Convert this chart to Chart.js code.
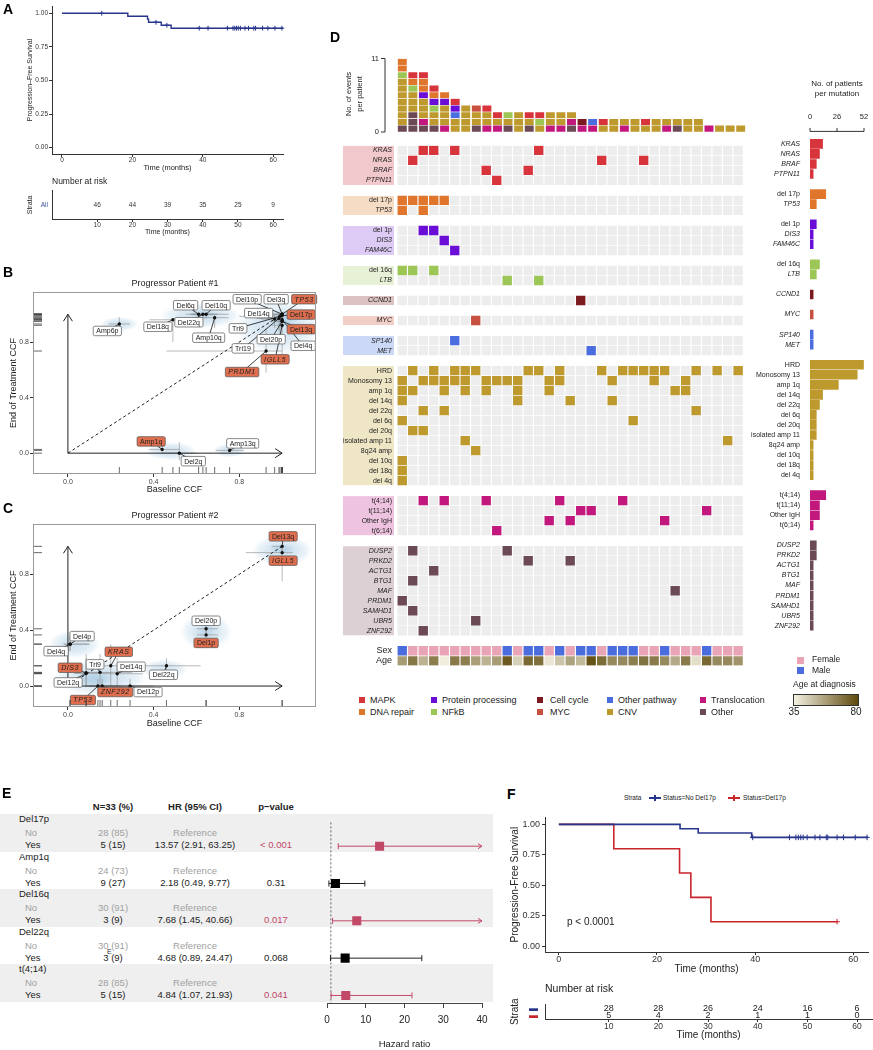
<!DOCTYPE html>
<html><head><meta charset="utf-8"><title>Figure</title>
<script src="https://cdn.jsdelivr.net/npm/chart.js@4.4.1/dist/chart.umd.min.js"></script>
<style>
html,body{margin:0;padding:0;background:#fff;}
#root{position:relative;width:873px;height:1050px;overflow:hidden;font-family:"Liberation Sans",Arial,Helvetica,sans-serif;color:#222;}
#root canvas{position:absolute;}
.t{position:absolute;white-space:nowrap;line-height:1.15;}
.b{position:absolute;}
</style></head><body><div id="root"></div>
<script>
// ================= DATA =================
// Panel A – Kaplan-Meier, all patients
const kmTicksX = [0, 20, 40, 60];
const survTicks = [0, 0.25, 0.5, 0.75, 1];
const aTimes = [0, 18.7, 24.3, 24.6, 28.2, 31.0, 62.8];
const aSurv = [1, 0.978, 0.956, 0.933, 0.911, 0.889, 0.889];
const aCensor = [11.3, 26.7, 29.8, 39, 41.5, 47, 48.6, 49.1, 49.6, 50.1, 50.7, 52, 53, 54.5, 55, 57, 58.5, 60.5, 62.5];
const riskTicks = [10, 20, 30, 40, 50, 60];
const riskAll = [46, 44, 39, 35, 25, 9];

// Panels B / C – CCF scatter
const ccfTicks = [0, 0.4, 0.8];
const bNames = ['Amp6p','Del18q','Del6q','Del22q','Del10q','Amp10q','Del10p','Del3q','TP53','Del17p','Del14q','Tri9','Del13q','Del20p','Del4q','Tri19','IGLL5','PRDM1','Amp1q','Del2q','Amp13q'];
const bBase = [0.24,0.49,0.61,0.63,0.645,0.685,1.0,1.0,1.0,1.0,0.965,0.99,1.0,1.0,1.0,0.985,1.0,0.925,0.44,0.52,0.755];
const bEnd  = [0.93,0.96,1.0,1.0,1.0,0.975,1.0,1.0,1.0,0.99,0.965,0.985,0.95,0.95,0.96,0.97,0.92,0.735,0.027,0.0,0.02];
const bBaseLo = [0.19,0.38,0.55,0.57,0.58,0.62,0.93,0.95,0.97,0.98,0.9,0.8,0.97,0.94,0.95,0.88,0.95,0.46,0.38,0.44,0.69];
const bBaseHi = [0.29,0.52,0.68,0.70,0.75,0.75,1.0,1.0,1.0,1.0,1.0,1.0,1.0,1.0,1.0,1.0,1.0,1.0,0.52,0.6,0.82];
const bEndLo = [0.88,0.80,0.97,0.97,0.97,0.90,0.97,0.97,0.98,0.97,0.9,0.8,0.9,0.9,0.9,0.88,0.67,0.58,0.0,-0.05,0.0];
const bEndHi = [0.98,0.96,1.0,1.0,1.0,1.0,1.0,1.0,1.0,1.0,1.0,1.0,1.0,1.0,1.0,1.0,1.0,0.9,0.06,0.08,0.04];
const bDriver = [0,0,0,0,0,0,0,0,1,1,0,0,1,0,0,0,1,1,1,0,0];
const bDensity = [[0.24,0.93,0.09,0.05,0.4],[0.62,0.99,0.19,0.09,0.42],[0.63,1.0,0.07,0.035,0.3],[0.98,0.91,0.2,0.2,0.42],[1.0,0.97,0.08,0.06,0.45],[0.48,0.015,0.12,0.065,0.4],[0.755,0.02,0.075,0.05,0.4]];

const cNames = ['Del13q','IGLL5','Del20p','Del1p','Del4p','Del4q','KRAS','Tri9','Del14q','DIS3','Del22q','Del12q','ZNF292','Del12p','TP53'];
const cBase = [1.0,1.0,0.645,0.645,0.01,0.01,0.2,0.15,0.23,0.085,0.46,0.085,0.16,0.29,0.14];
const cEnd  = [1.0,0.955,0.41,0.366,0.3,0.3,0.145,0.098,0.088,0.095,0.145,0.09,0.0,0.0,0.0];
const cBaseLo = [0.95,0.83,0.6,0.6,-0.02,-0.02,0.1,0.08,0.15,0.03,0.33,0.03,0.1,0.2,0.08];
const cBaseHi = [1.0,1.05,0.7,0.7,0.1,0.1,0.3,0.3,0.35,0.2,0.62,0.15,0.25,0.4,0.2];
const cEndLo = [0.95,0.75,0.37,0.33,0.25,0.25,0.0,0.0,0.0,0.0,0.07,0.0,0.0,0.0,0.0];
const cEndHi = [1.0,1.0,0.45,0.41,0.35,0.35,0.3,0.23,0.2,0.23,0.2,0.2,0.05,0.05,0.05];
const cDriver = [1,1,0,1,0,0,1,0,0,1,0,0,1,0,1];
const cDensity = [[1.0,0.97,0.14,0.11,0.42],[1.0,0.98,0.06,0.04,0.4],[0.645,0.39,0.12,0.13,0.4],[0.645,0.39,0.05,0.05,0.3],[0.03,0.3,0.12,0.1,0.4],[0.15,0.06,0.22,0.13,0.42],[0.12,0.05,0.09,0.06,0.45],[0.45,0.12,0.11,0.07,0.38]];

// Panel D – oncoprint
const pathways = ['MAPK','DNA repair','Protein processing','NFkB','Cell cycle','MYC','Other pathway','CNV','Translocation','Other'];
const geneGroups = [
  ['KRAS','NRAS','BRAF','PTPN11'],
  ['del 17p','TP53'],
  ['del 1p','DIS3','FAM46C'],
  ['del 16q','LTB'],
  ['CCND1'],
  ['MYC'],
  ['SP140','MET'],
  ['HRD','Monosomy 13','amp 1q','del 14q','del 22q','del 6q','del 20q','isolated amp 11','8q24 amp','del 10q','del 18q','del 4q'],
  ['t(4;14)','t(11;14)','Other IgH','t(6;14)'],
  ['DUSP2','PRKD2','ACTG1','BTG1','MAF','PRDM1','SAMHD1','UBR5','ZNF292']
];
const italicNames = ['KRAS','NRAS','BRAF','PTPN11','TP53','DIS3','FAM46C','LTB','CCND1','MYC','SP140','MET','DUSP2','PRKD2','ACTG1','BTG1','MAF','PRDM1','SAMHD1','UBR5','ZNF292'];
const mutatedPatients = {
  'KRAS':[2,3,5,13], 'NRAS':[1,19,23], 'BRAF':[8,12], 'PTPN11':[9],
  'del 17p':[0,1,2,3,4], 'TP53':[0,2],
  'del 1p':[2,3], 'DIS3':[4], 'FAM46C':[5],
  'del 16q':[0,1,3], 'LTB':[10,13],
  'CCND1':[17], 'MYC':[7], 'SP140':[5], 'MET':[18],
  'HRD':[1,3,5,6,7,12,13,15,19,21,22,23,24,25,28,30,32],
  'Monosomy 13':[0,2,3,4,5,6,8,9,10,11,14,15,20,24,27],
  'amp 1q':[0,1,4,6,8,11,14,26,27],
  'del 14q':[0,11,16,20], 'del 22q':[2,4,28], 'del 6q':[0,22], 'del 20q':[1,2],
  'isolated amp 11':[6,31], '8q24 amp':[7], 'del 10q':[0], 'del 18q':[0], 'del 4q':[0],
  't(4;14)':[2,4,8,15,21], 't(11;14)':[17,18,29], 'Other IgH':[14,16,25], 't(6;14)':[9],
  'DUSP2':[1,10], 'PRKD2':[12,16], 'ACTG1':[3], 'BTG1':[1], 'MAF':[26], 'PRDM1':[0], 'SAMHD1':[1], 'UBR5':[7], 'ZNF292':[2]
};
const sexMale = [1,0,0,0,0,0,0,0,0,0,1,0,1,1,0,1,0,1,1,0,1,1,1,0,0,1,0,0,0,1,0,0,0];
const ages = [58,68,52,66,36,67,66,57,52,58,76,44,72,70,38,47,56,50,78,71,63,63,66,69,67,63,54,67,40,72,63,63,60];
const ageRange = [35, 80];
const pctTicks = [0, 26, 52];

// Panel E – forest plot
const fpVars = ['Del17p','Amp1q','Del16q','Del22q','t(4;14)'];
const fpNoN = ['28 (85)','24 (73)','30 (91)','30 (91)','28 (85)'];
const fpYesN = ['5 (15)','9 (27)','3 (9)','3 (9)','5 (15)'];
const fpHR = [13.57, 2.18, 7.68, 4.68, 4.84];
const fpLo = [2.91, 0.49, 1.45, 0.89, 1.07];
const fpHi = [63.25, 9.77, 40.66, 24.47, 21.93];
const fpP = ['< 0.001','0.31','0.017','0.068','0.041'];
const fpSig = [1,0,1,0,1];
const fpTicks = [0, 10, 20, 30, 40];

// Panel F – KM by Del17p
const fNoTimes = [0, 24.7, 28.4, 39.3, 63];
const fNoSurv = [1, 0.964, 0.929, 0.893, 0.893];
const fNoCensor = [39.5, 47, 48.3, 48.8, 49.3, 49.8, 50.6, 52.2, 53.2, 54.5, 54.8, 56.7, 58, 60.4, 62.8];
const fDelTimes = [0, 11.2, 24.6, 26.9, 31.0, 56.7];
const fDelSurv = [1, 0.8, 0.6, 0.4, 0.2, 0.2];
const fDelCensor = [56.7];
const riskNoDel = [28, 28, 26, 24, 16, 6];
const riskDel = [5, 4, 2, 1, 1, 0];

// ================= STYLE / HELPERS =================
const NAVY = '#27358C', KMRED = '#C9252C', FPRED = '#C24868';
const pathwayColors = ['#D7343C','#E0762B','#6A0DD6','#9CC656','#7B1A1E','#C7513E','#4A6EE0','#BE992E','#C2177C','#6B4A55'];
const stripColors = ['#F1C8CB','#F6DCC4','#DDCBF5','#E7F1D6','#DCC2C2','#F1CEC6','#CBD8F6','#EFE6C6','#EDC3DF','#DCD0D4'];
const FEMALE = '#E9A5B5', MALE = '#4A6CDC';
const AGE_LO = [244,241,225], AGE_HI = [95,74,14];
const FONT = '"Liberation Sans", Arial, Helvetica, sans-serif';

Chart.defaults.font.family = FONT;
Chart.defaults.color = '#333';
Chart.defaults.animation = false;
Chart.defaults.responsive = false;
Chart.defaults.maintainAspectRatio = false;
Chart.defaults.devicePixelRatio = 1;
Chart.defaults.plugins.legend.display = false;
Chart.defaults.plugins.tooltip.enabled = false;
Chart.defaults.events = [];

const root = document.getElementById('root');
function txt(s, x, y, o = {}) {
  const d = document.createElement('div');
  d.className = 't'; d.textContent = s;
  d.style.left = x + 'px'; d.style.top = y + 'px';
  d.style.fontSize = (o.size || 9) + 'px';
  if (o.bold) d.style.fontWeight = 'bold';
  if (o.italic) d.style.fontStyle = 'italic';
  if (o.color) d.style.color = o.color;
  const ax = o.align === 'center' ? '-50%' : o.align === 'right' ? '-100%' : '0';
  d.style.transform = `translate(${ax},-50%)`;
  root.appendChild(d); return d;
}
function rtxt(s, cx, cy, o = {}) {
  const d = txt(s, cx, cy, Object.assign({}, o, {align: 'center'}));
  d.style.transform = 'translate(-50%,-50%) rotate(-90deg)';
  return d;
}
function box(x, y, w, h, style) {
  const d = document.createElement('div'); d.className = 'b';
  d.style.left = x + 'px'; d.style.top = y + 'px'; d.style.width = w + 'px'; d.style.height = h + 'px';
  Object.assign(d.style, style); root.appendChild(d); return d;
}
function mkCanvas(x, y, w, h) {
  const c = document.createElement('canvas');
  c.width = w; c.height = h;
  c.style.left = x + 'px'; c.style.top = y + 'px'; c.style.width = w + 'px'; c.style.height = h + 'px';
  root.appendChild(c); return c;
}
const fixTicks = arr => s => { s.ticks = arr.map(v => ({value: v})); };
const fixW = w => s => { s.width = w; };
const fixH = h => s => { s.height = h; };
const gridOpt = len => ({display: true, drawOnChartArea: false, tickLength: len, color: '#333', lineWidth: 1});
function survAt(T, S, t) { let v = S[0]; for (let i = 0; i < T.length; i++) if (T[i] <= t) v = S[i]; return v; }
function ageColor(a) {
  const t = Math.max(0, Math.min(1, (a - ageRange[0]) / (ageRange[1] - ageRange[0])));
  return `rgb(${AGE_LO.map((v, i) => Math.round(v + (AGE_HI[i] - v) * t))})`;
}
function stepDS(T, S, col, w) { return {type: 'line', data: T.map((t, i) => ({x: t, y: S[i]})), stepped: true, borderColor: col, borderWidth: w, pointRadius: 0, fill: false, clip: false}; }
function censorDS(C, T, S, col, r) { return {data: C.map(t => ({x: t, y: survAt(T, S, t)})), pointStyle: 'cross', pointRadius: r, borderColor: col, backgroundColor: col, borderWidth: 1, clip: false}; }
function kmX(min, max, ticks, h, tf, title, ttf, tpb) {
  return {type: 'linear', min, max, afterBuildTicks: fixTicks(ticks), afterFit: fixH(h), grid: gridOpt(3),
    border: {display: true, color: '#333', width: 1},
    ticks: {font: {size: tf, lineHeight: 1}, color: '#333', padding: 0, maxRotation: 0, autoSkip: false},
    title: {display: true, text: title, font: {size: ttf, lineHeight: 1.1}, color: '#222', padding: {top: 0, bottom: tpb}}};
}
function kmY(min, max, w, tf, tpad, title, ttf, tpt) {
  return {type: 'linear', min, max, afterBuildTicks: fixTicks(survTicks), afterFit: fixW(w), grid: gridOpt(3),
    border: {display: true, color: '#333', width: 1},
    ticks: {font: {size: tf}, color: '#333', padding: tpad, autoSkip: false, callback: v => Number(v).toFixed(2)},
    title: {display: true, text: title, font: {size: ttf}, color: '#222', padding: {top: tpt, bottom: 0}}};
}
function riskPlugin(rows, rowY, font, color) {
  return {id: 'risk', afterDatasetsDraw(chart) {
    const {ctx, scales: {x, y}} = chart;
    ctx.save(); ctx.font = font; ctx.textAlign = 'center'; ctx.textBaseline = 'middle'; ctx.fillStyle = color;
    rows.forEach((row, r) => row.forEach((v, i) => ctx.fillText(String(v), x.getPixelForValue(riskTicks[i]), y.getPixelForValue(rowY[r]))));
    ctx.restore();
  }};
}

// ================= PANEL A =================
new Chart(mkCanvas(0, 0, 290, 175), {
  type: 'scatter',
  data: {datasets: [stepDS(aTimes, aSurv, NAVY, 1.4), censorDS(aCensor, aTimes, aSurv, NAVY, 2.4)]},
  options: {layout: {padding: {left: 0, right: 7, top: 6, bottom: 0}},
    scales: {x: kmX(-2.84, 62.8, kmTicksX, 21, 6.5, 'Time (months)', 7.5, 2.5),
             y: kmY(-0.047, 1.054, 52, 6.5, 1, 'Progression\u2013Free Survival', 7, 26)}}
});
new Chart(mkCanvas(0, 183, 290, 53), {
  type: 'scatter', data: {datasets: [{data: []}]},
  options: {layout: {padding: {left: 0, right: 7, top: 5, bottom: 0}},
    scales: {
      x: kmX(-2.84, 62.8, riskTicks, 17, 6.5, 'Time (months)', 7, 0),
      y: {type: 'linear', min: 0, max: 1, afterBuildTicks: fixTicks([0.5]), afterFit: fixW(52),
        grid: {display: false, drawTicks: false}, border: {display: true, color: '#333', width: 1},
        ticks: {font: {size: 6.5}, color: '#3A4FA0', padding: 4, autoSkip: false, callback: () => 'All'},
        title: {display: true, text: 'Strata', font: {size: 7}, color: '#222', padding: {top: 26, bottom: 0}}}
    }},
  plugins: [riskPlugin([riskAll], [0.5], '6.5px ' + FONT, '#333')]
});

// ================= PANELS B / C =================
function ccfPlugin(d) {
  const isGene = n => !/^(Del|Amp|Tri)/.test(n);
  return {
    id: 'ccf',
    beforeDatasetsDraw(chart) {
      const {ctx, chartArea: a, scales: {x, y}} = chart;
      const X = v => x.getPixelForValue(v), Y = v => y.getPixelForValue(v);
      ctx.save();
      ctx.beginPath(); ctx.rect(a.left, a.top, a.right - a.left, a.bottom - a.top); ctx.clip();
      d.blobs.forEach(b => {
        const px = X(b[0]), py = Y(b[1]), rx = Math.abs(X(b[0] + b[2]) - px), ry = Math.abs(Y(b[1] + b[3]) - py);
        ctx.save(); ctx.translate(px, py); ctx.scale(rx, ry);
        const g = ctx.createRadialGradient(0, 0, 0, 0, 0, 1);
        g.addColorStop(0, `rgba(140,185,218,${b[4]})`);
        g.addColorStop(0.5, `rgba(150,192,222,${b[4] * 0.85})`);
        g.addColorStop(0.8, `rgba(165,202,228,${b[4] * 0.5})`);
        g.addColorStop(1, 'rgba(180,212,234,0)');
        ctx.fillStyle = g; ctx.beginPath(); ctx.arc(0, 0, 1, 0, 2 * Math.PI); ctx.fill(); ctx.restore();
      });
      ctx.strokeStyle = 'rgba(140,140,140,0.75)'; ctx.lineWidth = 0.8;
      d.base.forEach((bx, i) => {
        const px = X(bx), py = Y(d.end[i]);
        ctx.beginPath(); ctx.moveTo(X(d.bLo[i]), py); ctx.lineTo(X(d.bHi[i]), py);
        ctx.moveTo(px, Y(d.eLo[i])); ctx.lineTo(px, Y(d.eHi[i])); ctx.stroke();
      });
      const ox = X(0), oy = Y(0), tx = X(1), ty = Y(1);
      ctx.strokeStyle = '#222'; ctx.lineWidth = 1;
      ctx.beginPath();
      ctx.moveTo(ox, oy); ctx.lineTo(tx, oy); ctx.moveTo(tx - 7, oy - 4.5); ctx.lineTo(tx, oy); ctx.lineTo(tx - 7, oy + 4.5);
      ctx.moveTo(ox, oy); ctx.lineTo(ox, ty); ctx.moveTo(ox - 4.5, ty + 7); ctx.lineTo(ox, ty); ctx.lineTo(ox + 4.5, ty + 7);
      ctx.stroke();
      ctx.setLineDash([3, 2.5]); ctx.beginPath(); ctx.moveTo(ox, oy); ctx.lineTo(X(d.diag), Y(d.diag)); ctx.stroke(); ctx.setLineDash([]);
      ctx.strokeStyle = '#111'; ctx.lineWidth = 0.8;
      d.base.forEach((bx, i) => {
        const [dx, dy] = d.nudge[i]; if (Math.hypot(dx, dy) < 9) return;
        const px = X(bx), py = Y(d.end[i]);
        ctx.beginPath(); ctx.moveTo(px, py); ctx.lineTo(px + dx, py + dy); ctx.stroke();
      });
      ctx.restore();
    },
    afterDatasetsDraw(chart) {
      const {ctx, scales: {x, y}} = chart;
      ctx.save(); ctx.textAlign = 'center'; ctx.textBaseline = 'middle';
      d.names.forEach((n, i) => {
        const it = isGene(n);
        ctx.font = `${it ? 'italic ' : ''}7px ${FONT}`;
        if ('letterSpacing' in ctx) ctx.letterSpacing = it ? '0.6px' : '0px';
        const w = ctx.measureText(n).width + 6, h = 9.5;
        const cx = x.getPixelForValue(d.base[i]) + d.nudge[i][0], cy = y.getPixelForValue(d.end[i]) + d.nudge[i][1];
        ctx.beginPath();
        if (ctx.roundRect) ctx.roundRect(cx - w / 2, cy - h / 2, w, h, 1.5); else ctx.rect(cx - w / 2, cy - h / 2, w, h);
        ctx.fillStyle = d.drv[i] ? '#DE6E4E' : '#fff'; ctx.fill();
        ctx.strokeStyle = '#555'; ctx.lineWidth = 0.7; ctx.stroke();
        ctx.fillStyle = '#222'; ctx.fillText(n, cx, cy + 0.5);
      });
      ctx.restore();
    },
    afterDraw(chart) {
      const {ctx, chartArea: a, scales: {x, y}} = chart;
      ctx.save(); ctx.strokeStyle = '#444'; ctx.lineWidth = 0.8; ctx.beginPath();
      d.end.forEach(v => { const py = y.getPixelForValue(v); ctx.moveTo(a.left + 1, py); ctx.lineTo(a.left + 9, py); });
      d.base.forEach(v => { const px = x.getPixelForValue(v); ctx.moveTo(px, a.bottom - 1); ctx.lineTo(px, a.bottom - 7); });
      ctx.stroke();
      ctx.strokeStyle = '#9a9a9a'; ctx.lineWidth = 1;
      ctx.strokeRect(a.left + 0.5, a.top + 0.5, a.right - a.left - 1, a.bottom - a.top - 1);
      ctx.restore();
    }
  };
}
function ccfChart(cv, d, xh) {
  return new Chart(cv, {
    type: 'scatter',
    data: {datasets: [{data: d.base.map((v, i) => ({x: v, y: d.end[i]})), pointRadius: 1.7, backgroundColor: '#111', borderWidth: 0}]},
    options: {layout: {padding: {left: 0, right: 3, top: 6, bottom: 0}},
      scales: {
        x: {type: 'linear', min: -0.163, max: 1.158, afterBuildTicks: fixTicks(ccfTicks), afterFit: fixH(xh),
          grid: gridOpt(3), border: {display: false},
          ticks: {font: {size: 7}, color: '#444', padding: 1, maxRotation: 0, callback: v => Number(v).toFixed(1)},
          title: {display: true, text: 'Baseline CCF', font: {size: 9}, color: '#222', padding: {top: 0, bottom: 2.6}}},
        y: {type: 'linear', min: -0.15, max: 1.16, afterBuildTicks: fixTicks(ccfTicks), afterFit: fixW(33),
          grid: gridOpt(3), border: {display: false},
          ticks: {font: {size: 7}, color: '#444', padding: 1, callback: v => Number(v).toFixed(1)},
          title: {display: true, text: 'End of Treatment CCF', font: {size: 9}, color: '#222', padding: {top: 8, bottom: 0}}}
      }},
    plugins: [ccfPlugin(d)]
  });
}
const bLabelNudge = [[-12,7],[-15,7],[-13,-9],[-14,8],[10,-9],[-6,20],[-35,-15],[-6,-15],[22,-15],[19,-1],[-16,-6],[-42,12],[19,8],[-11,18],[21,26],[-36,30],[-7,34],[-24,21],[-11,-8],[14,8],[13,-7]];
const cLabelNudge = [[1,-10],[1,8],[0,-8],[0,8],[12,-8],[-14,7],[8,-14],[-5,-8],[14,-7],[-16,-5],[-3,9],[-18,9],[13,6],[18,6],[-15,14]];
ccfChart(mkCanvas(0, 286, 320, 212), {names: bNames, base: bBase, end: bEnd, bLo: bBaseLo, bHi: bBaseHi, eLo: bEndLo, eHi: bEndHi, drv: bDriver, blobs: bDensity, nudge: bLabelNudge, diag: 0.965}, 24);
ccfChart(mkCanvas(0, 518, 320, 214), {names: cNames, base: cBase, end: cEnd, bLo: cBaseLo, bHi: cBaseHi, eLo: cEndLo, eHi: cEndHi, drv: cDriver, blobs: cDensity, nudge: cLabelNudge, diag: 1.0}, 25);

// ================= PANEL D =================
const dRows = []; const groupFirst = [], groupLast = [];
geneGroups.forEach((g, gi) => {
  if (gi > 0) dRows.push(null);
  groupFirst.push(dRows.length);
  g.forEach(n => dRows.push({name: n, group: gi}));
  groupLast.push(dRows.length - 1);
});
dRows.push(null); dRows.push({name: 'Sex', special: true}); dRows.push({name: 'Age', special: true});
const nPat = sexMale.length;
const sexRow = dRows.findIndex(r => r && r.name === 'Sex');
const bgCells = [], evCells = [], evColors = [];
dRows.forEach((r, ri) => {
  if (!r || r.special) return;
  for (let c = 0; c < nPat; c++) bgCells.push({x: c, y: ri});
  (mutatedPatients[r.name] || []).forEach(c => { evCells.push({x: c, y: ri}); evColors.push(pathwayColors[r.group]); });
});
const CELL_R = 6.6;
const rowFont = c => {
  const r = dRows[c.index];
  if (!r) return {size: 7};
  if (r.special) return {size: 9};
  return {size: 7, style: italicNames.includes(r.name) ? 'italic' : 'normal'};
};
const stripPlugin = {id: 'strips', beforeDraw(chart) {
  const {ctx, chartArea: a, scales: {y}} = chart;
  ctx.save();
  geneGroups.forEach((g, gi) => {
    const y0 = y.getPixelForValue(groupFirst[gi] - 0.5) + 0.5, y1 = y.getPixelForValue(groupLast[gi] + 0.5) - 0.5;
    ctx.fillStyle = stripColors[gi]; ctx.fillRect(a.left - 54, y0, 51, y1 - y0);
  });
  ctx.restore();
}};
// dataset listed first is drawn on top: events above the grey background cells
new Chart(mkCanvas(335, 135, 415, 540), {
  type: 'scatter',
  data: {datasets: [
    {data: evCells, pointStyle: 'rect', pointRadius: CELL_R, backgroundColor: evColors, borderWidth: 0},
    {data: sexMale.map((m, c) => ({x: c, y: sexRow})), pointStyle: 'rect', pointRadius: CELL_R, backgroundColor: sexMale.map(m => m ? MALE : FEMALE), borderWidth: 0},
    {data: ages.map((a, c) => ({x: c, y: sexRow + 1})), pointStyle: 'rect', pointRadius: CELL_R, backgroundColor: ages.map(ageColor), borderWidth: 0},
    {data: bgCells, pointStyle: 'rect', pointRadius: CELL_R, backgroundColor: '#EDEDED', borderWidth: 0}
  ]},
  options: {layout: {padding: {left: 0, right: 4, top: 3.9, bottom: 5.7}},
    scales: {
      x: {type: 'linear', min: -0.5, max: nPat - 0.5, display: false},
      y: {type: 'linear', min: -0.5, max: dRows.length - 0.5, reverse: true,
        afterBuildTicks: s => { s.ticks = dRows.map((r, i) => ({value: i})); }, afterFit: fixW(62),
        grid: {display: false, drawTicks: false}, border: {display: false},
        ticks: {autoSkip: false, padding: 5, color: '#222', font: rowFont, callback: v => dRows[v] ? dRows[v].name : ''}}
    }},
  plugins: [stripPlugin]
});

// top stacked bars: events per patient (one dataset per stack level so each event is its own tile)
const stackOrder = [9, 8, 7, 6, 5, 4, 3, 2, 1, 0];
const colStacks = Array.from({length: nPat}, () => []);
stackOrder.forEach(gi => geneGroups[gi].forEach(n => (mutatedPatients[n] || []).forEach(c => colStacks[c].push(gi))));
const maxLevel = Math.max(...colStacks.map(s => s.length));
const levelSets = [];
for (let L = 0; L < maxLevel; L++) {
  levelSets.push({
    data: colStacks.map(s => s.length > L ? 1 : null),
    backgroundColor: colStacks.map(s => s.length > L ? pathwayColors[s[L]] : 'rgba(0,0,0,0)'),
    borderColor: 'rgba(255,255,255,0.6)', borderWidth: 0.6, borderSkipped: false, barThickness: 9.5
  });
}
const countTicks = [0, maxLevel];
const countAxisPlugin = {id: 'countAxis', afterDraw(chart) {
  const {ctx, chartArea: a, scales: {y}} = chart; const xb = a.left - 12;
  ctx.save(); ctx.strokeStyle = '#333'; ctx.lineWidth = 1; ctx.beginPath();
  ctx.moveTo(xb, y.getPixelForValue(countTicks[0])); ctx.lineTo(xb, y.getPixelForValue(countTicks[1]));
  countTicks.forEach(t => { const py = y.getPixelForValue(t); ctx.moveTo(xb - 4, py); ctx.lineTo(xb, py); });
  ctx.stroke();
  ctx.font = '7.5px ' + FONT; ctx.fillStyle = '#222'; ctx.textAlign = 'right'; ctx.textBaseline = 'middle';
  countTicks.forEach(t => ctx.fillText(String(t), xb - 6, y.getPixelForValue(t)));
  ctx.restore();
}};
new Chart(mkCanvas(335, 50, 420, 90), {
  type: 'bar',
  data: {labels: sexMale.map((m, c) => String(c + 1)), datasets: levelSets},
  options: {layout: {padding: {left: 62, right: 9, top: 8.5, bottom: 8}},
    scales: {
      x: {type: 'category', display: false, stacked: true},
      y: {type: 'linear', min: 0, max: maxLevel, stacked: true, display: false}
    }},
  plugins: [countAxisPlugin]
});

// right bars: % patients per mutation
const rowPct = dRows.map(r => r && !r.special ? (mutatedPatients[r.name] || []).length / nPat * 100 : null);
const rowBarColors = dRows.map(r => r && !r.special ? pathwayColors[r.group] : '#fff');
const bracketPlugin = {id: 'bracket', afterDraw(chart) {
  const {ctx, chartArea: a, scales: {x}} = chart; const yb = a.top - 7.5;
  ctx.save(); ctx.strokeStyle = '#333'; ctx.lineWidth = 1; ctx.beginPath();
  ctx.moveTo(x.getPixelForValue(pctTicks[0]), yb); ctx.lineTo(x.getPixelForValue(pctTicks[pctTicks.length - 1]), yb);
  pctTicks.forEach(t => { const px = x.getPixelForValue(t); ctx.moveTo(px, yb); ctx.lineTo(px, yb - 3.5); });
  ctx.stroke();
  ctx.font = '7.5px ' + FONT; ctx.fillStyle = '#222'; ctx.textAlign = 'center'; ctx.textBaseline = 'middle';
  pctTicks.forEach(t => ctx.fillText(String(t), x.getPixelForValue(t), yb - 14.5));
  ctx.restore();
}};
new Chart(mkCanvas(750, 100, 123, 575), {
  type: 'bar',
  data: {labels: dRows.map(r => r && !r.special ? r.name : ''),
    datasets: [{data: rowPct, backgroundColor: rowBarColors, barThickness: 9, borderWidth: 0}]},
  options: {indexAxis: 'y', layout: {padding: {left: 0, right: 9, top: 38.9, bottom: 5.7}},
    scales: {
      x: {type: 'linear', min: 0, max: 52, display: false},
      y: {type: 'category', afterFit: fixW(60), grid: {display: false, drawTicks: false}, border: {display: false},
        ticks: {autoSkip: false, padding: 10, color: '#222', font: rowFont}}
    }},
  plugins: [bracketPlugin]
});

// ================= PANEL E =================
const eGroupY0 = 819, eStep = 37.6;
fpVars.forEach((v, i) => { if (i % 2 === 0) box(0, eGroupY0 + i * eStep - 5, 493, 38, {background: '#EFEFEF'}); });
new Chart(mkCanvas(300, 810, 200, 240), {
  type: 'scatter',
  data: {datasets: [{data: fpHR.map((v, i) => ({x: v, y: i})), pointStyle: 'rect', pointRadius: 6.4,
    backgroundColor: fpSig.map(s => s ? FPRED : '#000'), borderWidth: 0}]},
  options: {layout: {padding: {left: 27, right: 18, top: 5, bottom: 0}},
    scales: {
      x: {type: 'linear', min: 0, max: 40, afterBuildTicks: fixTicks(fpTicks), afterFit: fixH(47),
        grid: {display: true, drawOnChartArea: false, tickLength: 5, color: '#444'}, border: {display: true, color: '#444', width: 1},
        ticks: {font: {size: 10}, color: '#222', padding: 6, maxRotation: 0},
        title: {display: true, text: 'Hazard ratio', font: {size: 9.5}, color: '#222', padding: {top: 0, bottom: 0}}},
      y: {type: 'linear', min: -0.798, max: 4.202, reverse: true, display: false}
    }},
  plugins: [{id: 'forest', beforeDatasetsDraw(chart) {
    const {ctx, chartArea: a, scales: {x, y}} = chart;
    ctx.save();
    ctx.strokeStyle = '#555'; ctx.lineWidth = 0.9; ctx.setLineDash([2, 2]);
    ctx.beginPath(); ctx.moveTo(x.getPixelForValue(1), a.top + 6); ctx.lineTo(x.getPixelForValue(1), a.bottom); ctx.stroke();
    ctx.setLineDash([]);
    fpHR.forEach((v, i) => {
      const col = fpSig[i] ? FPRED : '#222', py = y.getPixelForValue(i);
      const x0 = x.getPixelForValue(fpLo[i]), over = fpHi[i] > x.max, x1 = x.getPixelForValue(Math.min(fpHi[i], x.max));
      ctx.strokeStyle = col; ctx.lineWidth = 1; ctx.beginPath();
      ctx.moveTo(x0, py); ctx.lineTo(x1, py); ctx.moveTo(x0, py - 3); ctx.lineTo(x0, py + 3);
      if (over) { ctx.moveTo(x1 - 4, py - 2.5); ctx.lineTo(x1, py); ctx.lineTo(x1 - 4, py + 2.5); }
      else { ctx.moveTo(x1, py - 3); ctx.lineTo(x1, py + 3); }
      ctx.stroke();
    });
    ctx.restore();
  }}]
});
txt('N=33 (%)', 113, 807, {size: 9.5, bold: true, align: 'center'});
txt('HR (95% CI)', 195, 807, {size: 9.5, bold: true, align: 'center'});
txt('p\u2212value', 276, 807, {size: 9.5, bold: true, align: 'center'});
fpVars.forEach((v, i) => {
  const gy = eGroupY0 + i * eStep;
  txt(v, 19, gy, {size: 9.5});
  txt('No', 25, gy + 14, {size: 9.5, color: '#A0A0A0'});
  txt('Yes', 25, gy + 26, {size: 9.5});
  txt(fpNoN[i], 113, gy + 14, {size: 9.5, color: '#A0A0A0', align: 'center'});
  txt(fpYesN[i], 113, gy + 26, {size: 9.5, align: 'center'});
  txt('Reference', 195, gy + 14, {size: 9.5, color: '#A0A0A0', align: 'center'});
  txt(`${fpHR[i].toFixed(2)} (${fpLo[i].toFixed(2)}, ${fpHi[i].toFixed(2)})`, 195, gy + 26, {size: 9.5, align: 'center'});
  txt(fpP[i], 276, gy + 26, {size: 9.5, align: 'center', color: fpSig[i] ? FPRED : '#222'});
});
txt('E', 107, 952, {size: 7, color: '#333'});

// ================= PANEL F =================
new Chart(mkCanvas(500, 810, 373, 170), {
  type: 'scatter',
  data: {datasets: [
    stepDS(fNoTimes, fNoSurv, NAVY, 1.6), censorDS(fNoCensor, fNoTimes, fNoSurv, NAVY, 2.8),
    stepDS(fDelTimes, fDelSurv, KMRED, 1.6), censorDS(fDelCensor, fDelTimes, fDelSurv, KMRED, 2.8)]},
  options: {layout: {padding: {left: 0, right: 1, top: 6, bottom: 0}},
    scales: {x: kmX(-2.82, 63.0, kmTicksX, 28, 9, 'Time (months)', 10, 5),
             y: kmY(-0.049, 1.057, 45, 9, 2, 'Progression-Free Survival', 10, 9)}}
});
new Chart(mkCanvas(500, 993, 373, 48), {
  type: 'scatter', data: {datasets: [{data: []}]},
  options: {layout: {padding: {left: 0, right: 1, top: 6, bottom: 0}},
    scales: {
      x: kmX(-2.82, 63.0, riskTicks, 22, 8.5, 'Time (months)', 10, 0),
      y: {type: 'linear', min: 0, max: 2, reverse: true, afterBuildTicks: fixTicks([0.5, 1.5]), afterFit: fixW(45),
        grid: {display: false, drawTicks: false}, border: {display: true, color: '#333', width: 1},
        ticks: {font: {size: 9, weight: 'bold', lineHeight: 1}, color: c => [NAVY, KMRED][c.index], padding: 7, autoSkip: false, callback: () => '\u25AC'},
        title: {display: true, text: 'Strata', font: {size: 10}, color: '#222', padding: {top: 9, bottom: 0}}}
    }},
  plugins: [riskPlugin([riskNoDel, riskDel], [0.5, 1.5], '9px ' + FONT, '#222')]
});

// ================= TEXT / LEGENDS =================
txt('A', 3, 9, {size: 14, bold: true, color: '#000'});
txt('B', 3, 272, {size: 14, bold: true, color: '#000'});
txt('C', 3, 508, {size: 14, bold: true, color: '#000'});
txt('D', 330, 37, {size: 14, bold: true, color: '#000'});
txt('E', 2, 793, {size: 14, bold: true, color: '#000'});
txt('F', 507, 794, {size: 14, bold: true, color: '#000'});

txt('Number at risk', 52, 182, {size: 8.5});
txt('Progressor Patient #1', 175, 283, {size: 9, align: 'center'});
txt('Progressor Patient #2', 175, 515, {size: 9, align: 'center'});

rtxt('No. of events', 349, 94, {size: 7.5});
rtxt('per patient', 359.5, 94, {size: 7.5});
txt('No. of patients', 837, 84, {size: 8, align: 'center'});
txt('per mutation', 837, 94, {size: 8, align: 'center'});

box(797, 656.5, 7, 7, {background: FEMALE});
box(797, 667, 7, 7, {background: MALE});
txt('Female', 812, 660, {size: 8.5});
txt('Male', 812, 670.6, {size: 8.5});
txt('Age at diagnosis', 793, 685, {size: 8.5});
box(793, 694, 64, 10, {background: `linear-gradient(to right, ${ageColor(ageRange[0])}, ${ageColor(ageRange[1])})`, border: '1px solid #333'});
txt(String(ageRange[0]), 794, 711.5, {size: 10, align: 'center'});
txt(String(ageRange[1]), 856, 711.5, {size: 10, align: 'center'});

const legCols = [[359, 370], [431, 442], [537, 550], [607, 618], [700, 711]];
pathways.forEach((p, i) => {
  const col = Math.floor(i / 2), row = i % 2, y = 700 + row * 12;
  box(legCols[col][0], y - 3, 6, 6, {background: pathwayColors[i]});
  txt(p, legCols[col][1], y, {size: 9});
});

// F legend
txt('Strata', 624, 798, {size: 6.5});
box(649, 797.4, 12, 1.4, {background: NAVY}); box(654.4, 795, 1.2, 6, {background: NAVY});
txt('Status=No Del17p', 663, 798, {size: 6.5});
box(728, 797.4, 12, 1.4, {background: KMRED}); box(733.4, 795, 1.2, 6, {background: KMRED});
txt('Status=Del17p', 743, 798, {size: 6.5});
txt('p < 0.0001', 567, 922, {size: 10});
txt('Number at risk', 545, 988, {size: 10.5});
</script></body></html>
